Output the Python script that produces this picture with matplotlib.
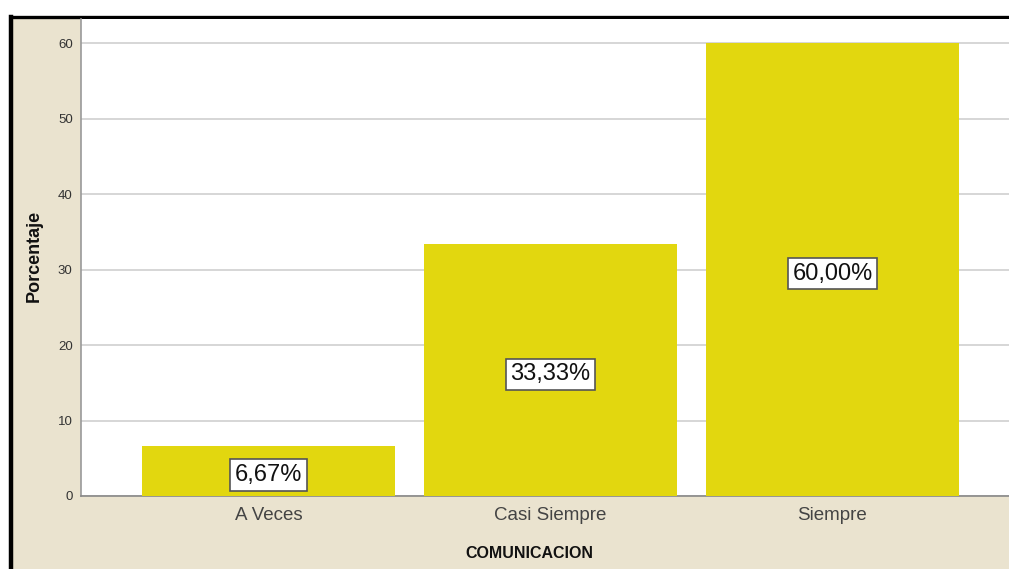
import matplotlib
matplotlib.use("Agg")
import matplotlib.pyplot as plt
from matplotlib.patches import Rectangle

categories = ["A Veces", "Casi Siempre", "Siempre"]
percentages = [6.67, 33.33, 60.00]
bar_labels = ["6,67%", "33,33%", "60,00%"]
yticks = [0, 10, 20, 30, 40, 50, 60]

plt.rcParams["font.family"] = ["Liberation Sans", "DejaVu Sans"]

W, H = 1009, 569
fig = plt.figure(figsize=(W / 100, H / 100), dpi=100, facecolor="white")

# beige panel with black frame on top and left
fig.add_artist(Rectangle((10.5 / W, 0), 1.2, (H - 17) / H, transform=fig.transFigure,
                         facecolor="#EAE3CF", edgecolor="none", zorder=-5))
fig.add_artist(plt.Line2D([10.5 / W, 10.5 / W], [0, (H - 17) / H], transform=fig.transFigure,
                          color="black", lw=3.2, zorder=-4))
fig.add_artist(plt.Line2D([10.5 / W, 1.0], [(H - 17) / H, (H - 17) / H], transform=fig.transFigure,
                          color="black", lw=2.4, zorder=-4))

ax = fig.add_axes([81 / W, (H - 496) / H, 1 - 81 / W, (496 - 19) / H])
ax.set_facecolor("white")
x = list(range(len(categories)))
ax.bar(x, percentages, width=0.897, color="#E2D70F", zorder=3)
for xi, v, lab in zip(x, percentages, bar_labels):
    ax.annotate(lab, (xi, v / 2), xytext=(0, -3), textcoords="offset points",
                ha="center", va="center", fontsize=17, color="#111111", zorder=4,
                bbox=dict(boxstyle="square,pad=0.2", facecolor="white", edgecolor="#555555", lw=1.2))

ax.set_xlim(-0.665, 2.626)
ax.set_ylim(0, 63.2)
ax.set_yticks(yticks)
ax.yaxis.grid(True, color="#D0D0D0", lw=1.2, zorder=0)
ax.set_axisbelow(True)
ax.set_xticks(x)
ax.set_xticklabels(categories, fontsize=13.5, color="#444444")
ax.tick_params(axis="y", labelsize=9.5, labelcolor="#333333", length=0, pad=6)
ax.tick_params(axis="x", length=0, pad=8)
for s in ["top", "right"]:
    ax.spines[s].set_visible(False)
ax.spines["left"].set_color("#999999")
ax.spines["bottom"].set_color("#888888")
ax.spines["left"].set_linewidth(1.2)
ax.spines["bottom"].set_linewidth(1.2)

fig.text(529 / W, 1 - 553 / H, "COMUNICACION", ha="center", va="center",
         fontsize=11.5, fontweight="bold", color="#111111")
fig.text(34 / W, 1 - 256 / H, "Porcentaje", ha="center", va="center", rotation=90,
         fontsize=13, fontweight="bold", color="#111111")

fig.savefig("out.png", dpi=100, facecolor="white")
